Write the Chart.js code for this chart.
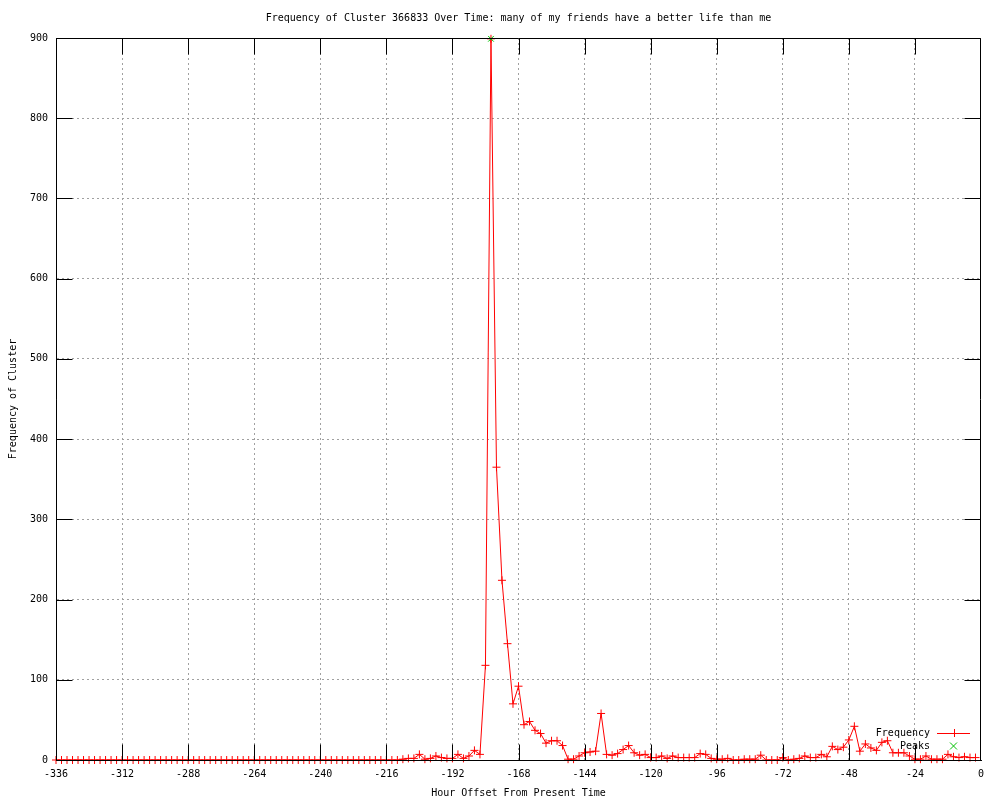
<!DOCTYPE html>
<html><head><meta charset="utf-8">
<script src="https://cdn.jsdelivr.net/npm/chart.js@4/dist/chart.umd.min.js"></script>
<style>html,body{margin:0;padding:0;background:#fff}#wrap{width:1000px;height:800px}</style>
</head><body><div id="wrap"><canvas id="c" width="1000" height="800"></canvas></div>
<script>
const titleText = "Frequency of Cluster 366833 Over Time: many of my friends have a better life than me";
const xTitle = "Hour Offset From Present Time";
const yTitle = "Frequency of Cluster";

const hours = [
 -336,-334,-332,-330,-328,-326,-324,-322,-320,-318,-316,-314,-312,-310,-308,-306,-304,-302,-300,-298,
 -296,-294,-292,-290,-288,-286,-284,-282,-280,-278,-276,-274,-272,-270,-268,-266,-264,-262,-260,-258,
 -256,-254,-252,-250,-248,-246,-244,-242,-240,-238,-236,-234,-232,-230,-228,-226,-224,-222,-220,-218,
 -216,-214,-212,-210,-208,-206,-204,-202,-200,-198,-196,-194,-192,-190,-188,-186,-184,-182,-180,-178,
 -176,-174,-172,-170,-168,-166,-164,-162,-160,-158,-156,-154,-152,-150,-148,-146,-144,-142,-140,-138,
 -136,-134,-132,-130,-128,-126,-124,-122,-120,-118,-116,-114,-112,-110,-108,-106,-104,-102,-100,-98,
 -96,-94,-92,-90,-88,-86,-84,-82,-80,-78,-76,-74,-72,-70,-68,-66,-64,-62,-60,-58,
 -56,-54,-52,-50,-48,-46,-44,-42,-40,-38,-36,-34,-32,-30,-28,-26,-24,-22,-20,-18,
 -16,-14,-12,-10,-8,-6,-4,-2
];
const frequency = [
 0,0,0,0,0,0,0,0,0,0,0,0,0,0,0,0,0,0,0,0,
 0,0,0,0,0,0,0,0,0,0,0,0,0,0,0,0,0,0,0,0,
 0,0,0,0,0,0,0,0,0,0,0,0,0,0,0,0,0,0,0,0,
 0,0,0,1,2,2,7,1,2,5,3,2,2,7,2,5,12,7,118,899,
 365,224,145,70,92,44,48,37,33,21,24,24,18,1,1,5,9,10,11,58,
 7,6,8,13,18,9,6,7,3,3,5,2,5,3,3,3,3,8,7,2,
 1,1,2,0,0,1,1,1,6,0,0,0,3,0,1,2,5,3,3,7,
 4,17,13,16,25,42,11,20,15,12,22,24,9,9,9,5,1,1,5,1,
 1,1,7,4,3,4,3,3
];
const peakHours = [-178];
const peakValues = [899];

const xMin = -336, xMax = 0, xStep = 24;
const yMin = 0, yMax = 900, yStep = 100;

Chart.defaults.font.family = "'DejaVu Sans Mono', 'Liberation Mono', monospace";
Chart.defaults.font.size = 10;
Chart.defaults.color = '#000';

const framePlugin = {
  id: 'frame',
  afterDatasetsDraw(chart) {
    const {ctx, chartArea: a, scales: {x, y}} = chart;
    const L = 16;
    const l = Math.round(a.left) + 0.5, r = Math.round(a.right) - 0.5;
    const t = Math.round(a.top) + 0.5, b = Math.round(a.bottom) + 0.5;
    ctx.save();
    ctx.strokeStyle = '#000';
    ctx.lineWidth = 1;
    ctx.beginPath();
    ctx.moveTo(l, t); ctx.lineTo(r, t); ctx.lineTo(r, b); ctx.lineTo(l, b); ctx.closePath();
    x.ticks.forEach(tk => {
      const px = Math.min(r, Math.round(x.getPixelForValue(tk.value)) + 0.5);
      ctx.moveTo(px, b); ctx.lineTo(px, b - L);
      ctx.moveTo(px, t); ctx.lineTo(px, t + L);
    });
    y.ticks.forEach(tk => {
      const py = Math.round(y.getPixelForValue(tk.value)) + 0.5;
      ctx.moveTo(l, py); ctx.lineTo(l + L, py);
      ctx.moveTo(r, py); ctx.lineTo(r - L, py);
    });
    ctx.stroke();
    ctx.restore();
  }
};

const legendPlugin = {
  id: 'gpLegend',
  afterDraw(chart) {
    const {ctx, chartArea: a} = chart;
    const ds = chart.data.datasets;
    const textRight = a.right - 51;
    const sampleL = a.right - 44, sampleR = a.right - 11, mid = (sampleL + sampleR) / 2;
    ctx.save();
    ctx.font = "10px 'DejaVu Sans Mono', 'Liberation Mono', monospace";
    ctx.textAlign = 'right';
    ctx.textBaseline = 'middle';
    const rows = [ds[0], ds[1]];
    rows.forEach((d, i) => {
      const yy = a.bottom - 27 + i * 13;
      ctx.fillStyle = '#000';
      ctx.fillText(d.label, textRight, yy);
      ctx.strokeStyle = d.borderColor;
      ctx.lineWidth = 1;
      ctx.beginPath();
      if (d.showLine !== false) {
        ctx.moveTo(sampleL, Math.round(yy) + 0.5); ctx.lineTo(sampleR, Math.round(yy) + 0.5);
        ctx.moveTo(Math.round(mid) + 0.5, yy - 4); ctx.lineTo(Math.round(mid) + 0.5, yy + 4);
      } else {
        ctx.moveTo(mid - 3.5, yy - 3.5); ctx.lineTo(mid + 3.5, yy + 3.5);
        ctx.moveTo(mid - 3.5, yy + 3.5); ctx.lineTo(mid + 3.5, yy - 3.5);
      }
      ctx.stroke();
    });
    ctx.restore();
  }
};

new Chart(document.getElementById('c'), {
  type: 'line',
  data: {
    datasets: [
      {
        label: 'Frequency',
        data: hours.map((h, i) => ({x: h, y: frequency[i]})),
        borderColor: '#ff0000',
        backgroundColor: '#ff0000',
        borderWidth: 1,
        pointStyle: 'cross',
        pointRadius: 4,
        pointBorderWidth: 1,
        pointBorderColor: '#ff0000',
        tension: 0,
        fill: false,
        clip: false,
        order: 1
      },
      {
        label: 'Peaks',
        data: peakHours.map((h, i) => ({x: h, y: peakValues[i]})),
        borderColor: '#00c000',
        backgroundColor: '#00c000',
        showLine: false,
        pointStyle: 'crossRot',
        pointRadius: 4,
        pointBorderWidth: 1,
        pointBorderColor: '#00c000',
        clip: false,
        order: 0
      }
    ]
  },
  options: {
    responsive: false,
    animation: false,
    devicePixelRatio: 1,
    layout: {padding: {top: 0, right: 19, bottom: 0, left: 0}},
    plugins: {
      legend: {display: false},
      tooltip: {enabled: false},
      title: {
        display: true,
        text: titleText,
        fullSize: false,
        color: '#000',
        font: {size: 10, weight: 'normal'},
        padding: {top: 12, bottom: 14}
      }
    },
    scales: {
      x: {
        type: 'linear',
        min: xMin, max: xMax,
        afterFit(s) { s.height = 40; },
        ticks: {stepSize: xStep, padding: 8, color: '#000', maxRotation: 0, autoSkip: false},
        grid: {
          color: ctx => (ctx.tick && (ctx.tick.value === xMin || ctx.tick.value === xMax)) ? 'rgba(0,0,0,0)' : '#a0a0a0',
          lineWidth: 1, drawTicks: false
        },
        border: {display: true, color: '#000', dash: [2, 3]},
        title: {display: true, text: xTitle, color: '#000', padding: {top: 0, bottom: 1}}
      },
      y: {
        type: 'linear',
        min: yMin, max: yMax,
        afterFit(s) { s.width = 56; },
        ticks: {stepSize: yStep, padding: 8, color: '#000'},
        grid: {
          color: ctx => (ctx.tick && (ctx.tick.value === yMin || ctx.tick.value === yMax)) ? 'rgba(0,0,0,0)' : '#a0a0a0',
          lineWidth: 1, drawTicks: false
        },
        border: {display: true, color: '#000', dash: [2, 3]},
        title: {display: true, text: yTitle, color: '#000', padding: {top: 7, bottom: 0}}
      }
    }
  },
  plugins: [framePlugin, legendPlugin]
});
</script></body></html>
